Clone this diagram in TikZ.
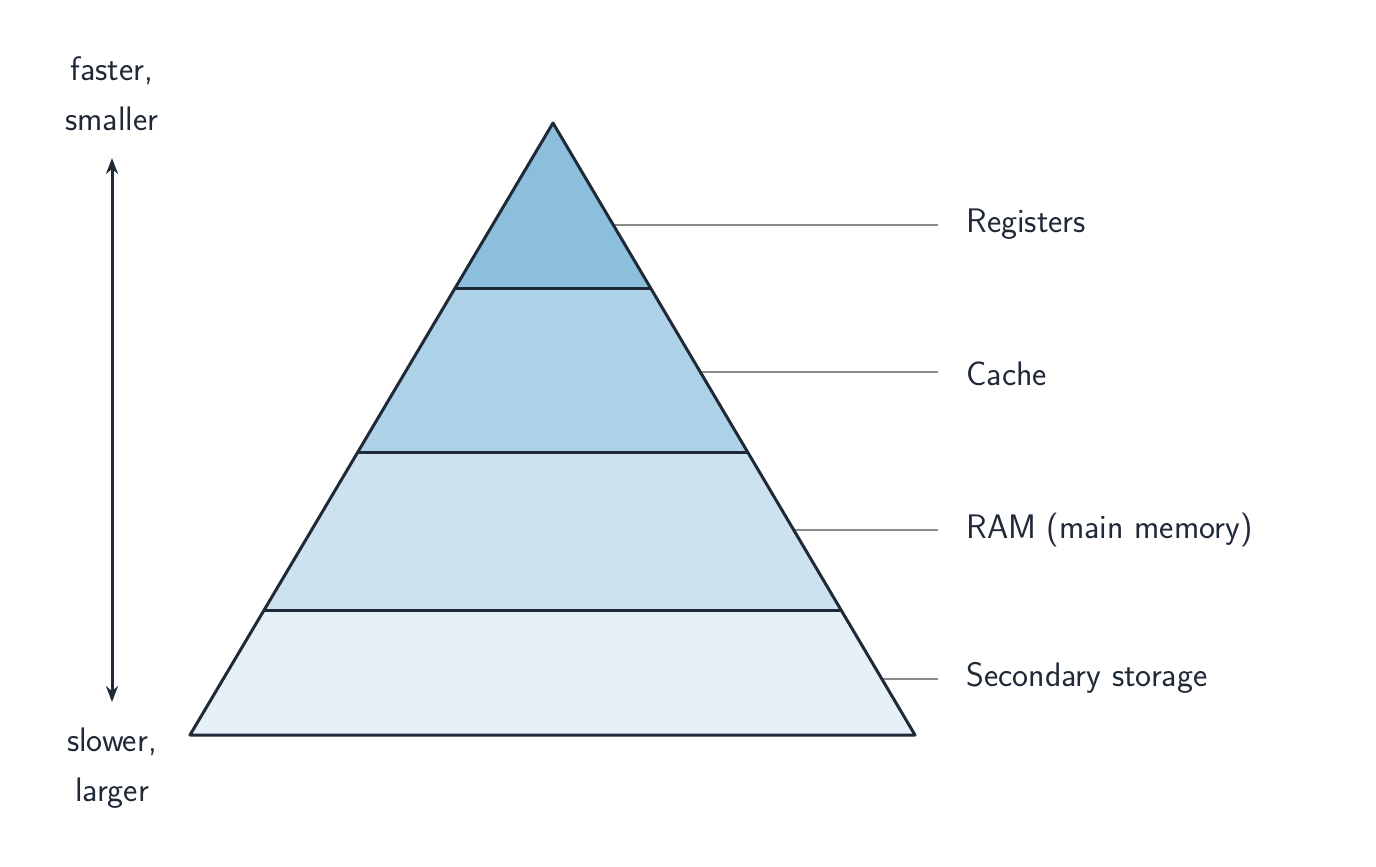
\documentclass[tikz,border=0pt]{standalone}
\usepackage{tikz}
\usetikzlibrary{arrows.meta}
\definecolor{ink}{HTML}{1F2937}
\definecolor{levA}{HTML}{8BBFDC}
\definecolor{levB}{HTML}{ADD1E7}
\definecolor{levC}{HTML}{CCE2F0}
\definecolor{levD}{HTML}{E5F0F7}
\tikzset{
  level/.style={draw=ink,line width=1.5pt,line join=round},
  leader/.style={draw=gray!90,line width=1pt},
  lab/.style={anchor=west,text=ink,font=\sffamily\fontsize{17}{21}\selectfont,inner sep=0pt},
  side/.style={align=center,text=ink,font=\sffamily\fontsize{17}{25}\selectfont}
}
\begin{document}
\begin{tikzpicture}[x=0.5pt,y=-0.5pt]
\useasboundingbox (0,0) rectangle (1376,867);
% levels of the pyramid
\coordinate (top) at (553,123);
\coordinate (l1) at (455,288); \coordinate (r1) at (651,288);
\coordinate (l2) at (358,452); \coordinate (r2) at (748,452);
\coordinate (l3) at (264,610); \coordinate (r3) at (842,610);
\coordinate (l4) at (190,735); \coordinate (r4) at (915,735);
\fill[levD] (l3) -- (r3) -- (r4) -- (l4) -- cycle;
\fill[levC] (l2) -- (r2) -- (r3) -- (l3) -- cycle;
\fill[levB] (l1) -- (r1) -- (r2) -- (l2) -- cycle;
\fill[levA] (top) -- (r1) -- (l1) -- cycle;
% labels and leaders
\node[lab] (reg) at (966,224) {Registers};
\node[lab] (cache) at (966,374) {Cache};
\node[lab] (ram) at (966,530) {RAM (main memory)};
\node[lab] (sec) at (966,678) {Secondary storage};
\coordinate (e1) at (615,225);
\coordinate (e2) at (700,372);
\coordinate (e3) at (795,530);
\coordinate (e4) at (883,679);
\draw[leader] (e1) -- ([xshift=-14pt]reg.west |- e1);
\draw[leader] (e2) -- ([xshift=-14pt]cache.west |- e2);
\draw[leader] (e3) -- ([xshift=-14pt]ram.west |- e3);
\draw[leader] (e4) -- ([xshift=-14pt]sec.west |- e4);
\draw[level] (top) -- (r4) -- (l4) -- cycle;
\draw[level] (l1) -- (r1);
\draw[level] (l2) -- (r2);
\draw[level] (l3) -- (r3);
% speed axis
\node[side] (fast) at (112,94) {faster,\\smaller};
\node[side] (slow) at (112,768) {slower,\\larger};
\coordinate (a1) at (112,158);
\coordinate (a2) at (112,702);
\draw[ink,line width=1.5pt,{Stealth[length=8pt]}-{Stealth[length=8pt]}] (a1) -- (a2);
\end{tikzpicture}
\end{document}
